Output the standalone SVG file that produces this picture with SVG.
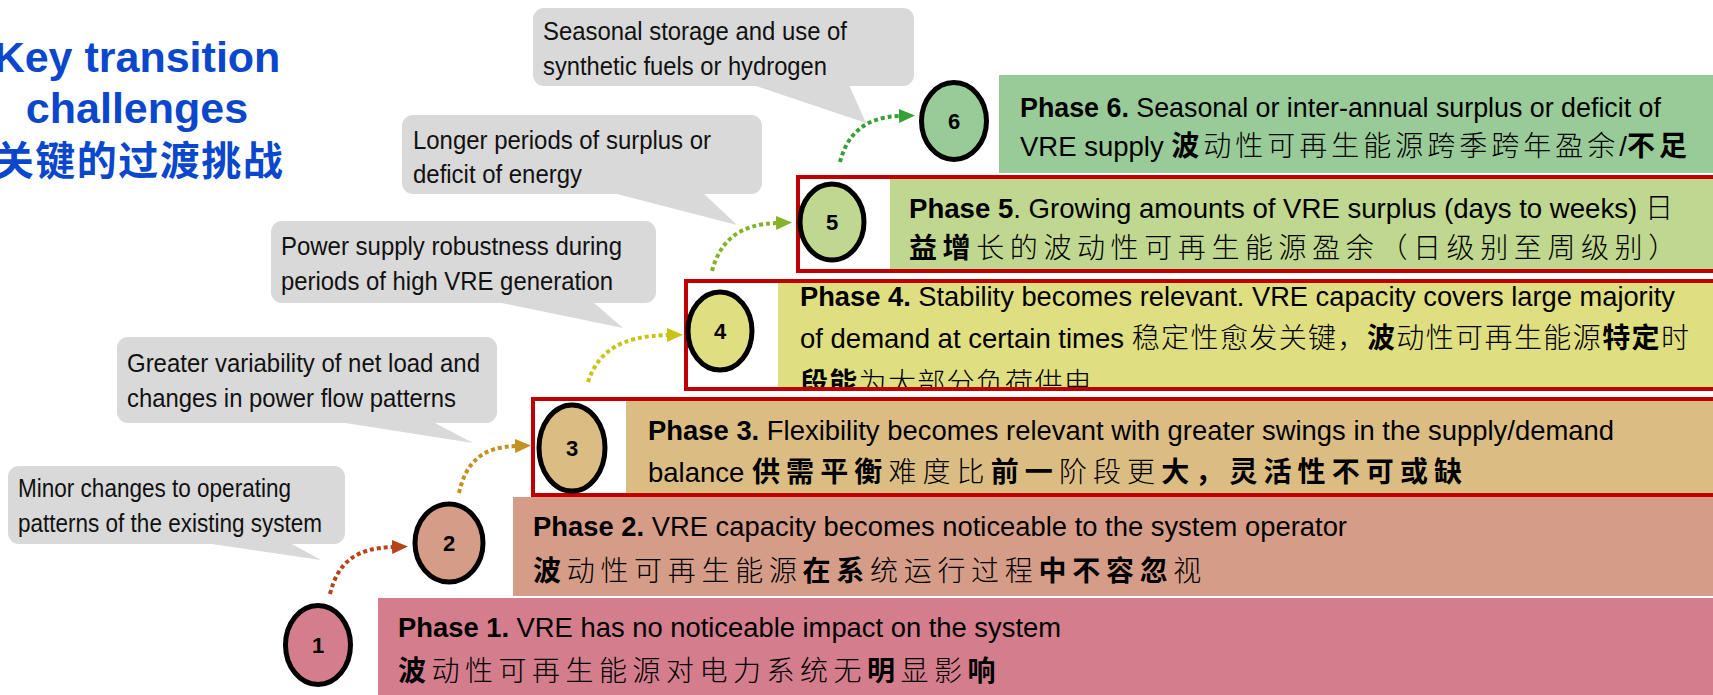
<svg xmlns="http://www.w3.org/2000/svg" width="1713" height="695" viewBox="0 0 1713 695">
<style>
.ph{font-family:"Liberation Sans",Arial,"Noto Sans CJK SC",sans-serif;font-size:27.5px;fill:#000}
.b{font-weight:bold}
.cj{font-family:"Noto Sans CJK SC","Noto Sans CJK TC",sans-serif;font-size:28px;letter-spacing:5px;font-weight:300}
.cj.b{font-weight:bold}
.co{font-family:"Liberation Sans",Arial,sans-serif;font-size:26.5px;fill:#111}
.num{font-family:"Liberation Sans",Arial,sans-serif;font-weight:bold;font-size:22px;text-anchor:middle;fill:#000}
.ttl{font-family:"Liberation Sans",Arial,sans-serif;font-weight:bold;font-size:43px;text-anchor:middle;fill:#0B47CC}
.ttlc{font-family:"Noto Sans CJK SC",sans-serif;font-weight:bold;font-size:40px;letter-spacing:1.5px;text-anchor:middle;fill:#0B47CC}
.bub{fill:#D9D9D9}
.circ{stroke:#000;stroke-width:5}
.red{fill:none;stroke:#C00000;stroke-width:4}
.con{fill:none;stroke-width:4;stroke-dasharray:4 3}
</style>
<defs>
<marker id="m1" markerUnits="userSpaceOnUse" markerWidth="16" markerHeight="16" refX="1" refY="8" orient="auto"><path d="M0,1 L16,8 L0,15 Z" fill="#B5441D"/></marker>
<marker id="m2" markerUnits="userSpaceOnUse" markerWidth="16" markerHeight="16" refX="1" refY="8" orient="auto"><path d="M0,1 L16,8 L0,15 Z" fill="#C49020"/></marker>
<marker id="m3" markerUnits="userSpaceOnUse" markerWidth="16" markerHeight="16" refX="1" refY="8" orient="auto"><path d="M0,1 L16,8 L0,15 Z" fill="#C8C414"/></marker>
<marker id="m4" markerUnits="userSpaceOnUse" markerWidth="16" markerHeight="16" refX="1" refY="8" orient="auto"><path d="M0,1 L16,8 L0,15 Z" fill="#86B22A"/></marker>
<marker id="m5" markerUnits="userSpaceOnUse" markerWidth="16" markerHeight="16" refX="1" refY="8" orient="auto"><path d="M0,1 L16,8 L0,15 Z" fill="#35A035"/></marker>
<clipPath id="clip4"><rect x="688" y="283" width="1100" height="104"/></clipPath>
</defs>

<g id="title">
<text class="ttl" x="137" y="72">Key transition</text>
<text class="ttl" x="137" y="123">challenges</text>
<text class="ttlc" x="139" y="175">关键的过渡挑战</text>
</g>

<g id="phase1">
<rect x="378" y="598" width="1335" height="97" fill="#D47D8D"/>
<text class="ph" x="398" y="637" textLength="663" lengthAdjust="spacingAndGlyphs"><tspan class="b">Phase 1.</tspan> VRE has no noticeable impact on the system</text>
<text class="ph" x="398" y="681"><tspan class="cj b" style="letter-spacing:5.5px">波</tspan><tspan class="cj" style="letter-spacing:5.5px">动性可再生能源对电力系统无</tspan><tspan class="cj b" style="letter-spacing:5.5px">明</tspan><tspan class="cj" style="letter-spacing:5.5px">显影</tspan><tspan class="cj b" style="letter-spacing:5.5px">响</tspan></text>
</g>

<g id="phase2">
<rect x="513" y="497" width="1200" height="99" fill="#D59D88"/>
<text class="ph" x="533" y="536" textLength="814" lengthAdjust="spacingAndGlyphs"><tspan class="b">Phase 2.</tspan> VRE capacity becomes noticeable to the system operator</text>
<text class="ph" x="533" y="581"><tspan class="cj b" style="letter-spacing:5.7px">波</tspan><tspan class="cj" style="letter-spacing:5.7px">动性可再生能源</tspan><tspan class="cj b" style="letter-spacing:5.7px">在系</tspan><tspan class="cj" style="letter-spacing:5.7px">统运行过程</tspan><tspan class="cj b" style="letter-spacing:5.7px">中不容忽</tspan><tspan class="cj" style="letter-spacing:5.7px">视</tspan></text>
</g>

<g id="phase3">
<rect x="533" y="399" width="1200" height="96" fill="#FFFFFF"/>
<rect x="626" y="399" width="1100" height="96" fill="#DBBD84"/>
<rect class="red" x="533" y="399" width="1200" height="96"/>
<text class="ph" x="648" y="440" textLength="966" lengthAdjust="spacingAndGlyphs"><tspan class="b">Phase 3.</tspan> Flexibility becomes relevant with greater swings in the supply/demand</text>
<text class="ph" x="648" y="482">balance <tspan class="cj b" style="letter-spacing:6.1px">供需平衡</tspan><tspan class="cj" style="letter-spacing:6.1px">难度比</tspan><tspan class="cj b" style="letter-spacing:6.1px">前一</tspan><tspan class="cj" style="letter-spacing:6.1px">阶段更</tspan><tspan class="cj b" style="letter-spacing:6.1px">大，灵活性不可或缺</tspan></text>
</g>

<g id="phase4">
<rect x="686" y="281" width="1100" height="108" fill="#FFFFFF"/>
<rect x="778" y="281" width="1000" height="108" fill="#DFDE80"/>
<g clip-path="url(#clip4)">
<text class="ph" x="800" y="306" textLength="875" lengthAdjust="spacingAndGlyphs"><tspan class="b">Phase 4.</tspan> Stability becomes relevant. VRE capacity covers large majority</text>
<text class="ph" x="800" y="348">of demand at certain times <tspan class="cj" style="letter-spacing:1.4px">稳定性愈发关键，</tspan><tspan class="cj b" style="letter-spacing:1.4px">波</tspan><tspan class="cj" style="letter-spacing:1.4px">动性可再生能源</tspan><tspan class="cj b" style="letter-spacing:1.4px">特定</tspan><tspan class="cj" style="letter-spacing:1.4px">时</tspan></text>
<text class="ph" x="800" y="393"><tspan class="cj b" style="letter-spacing:1.3px">段能</tspan><tspan class="cj" style="letter-spacing:1.3px">为大部分负荷供电</tspan></text>
</g>
<rect class="red" x="686" y="281" width="1100" height="108"/>
</g>

<g id="phase5">
<rect x="798" y="177" width="1000" height="94" fill="#FFFFFF"/>
<rect x="890" y="177" width="900" height="94" fill="#BFD78F"/>
<rect class="red" x="798" y="177" width="1000" height="94"/>
<text class="ph" x="909" y="218" textLength="769" lengthAdjust="spacingAndGlyphs"><tspan class="b">Phase 5</tspan>. Growing amounts of VRE surplus (days to weeks) <tspan class="cj">日</tspan></text>
<text class="ph" x="909" y="258"><tspan class="cj b" style="letter-spacing:5.6px">益增</tspan><tspan class="cj" style="letter-spacing:5.6px">长的波动性可再生能源盈余（日级别至周级别）</tspan></text>
</g>

<g id="phase6">
<rect x="999" y="75" width="714" height="98" fill="#99CB98"/>
<text class="ph" x="1020" y="117" textLength="641" lengthAdjust="spacingAndGlyphs"><tspan class="b">Phase 6.</tspan> Seasonal or inter-annual surplus or deficit of</text>
<text class="ph" x="1020" y="156">VRE supply <tspan class="cj b" style="letter-spacing:4px">波</tspan><tspan class="cj" style="letter-spacing:4px">动性可再生能源跨季跨年盈余</tspan>/<tspan class="cj b" style="letter-spacing:4px">不足</tspan></text>
</g>

<g id="node1"><ellipse class="circ" cx="318" cy="645" rx="32.5" ry="39.5" fill="#D47D8D"/><text class="num" x="318" y="653">1</text></g>
<g id="node2"><ellipse class="circ" cx="449" cy="543" rx="34" ry="39" fill="#D59D88"/><text class="num" x="449" y="551">2</text></g>
<g id="node3"><ellipse class="circ" cx="572" cy="448" rx="33" ry="43" fill="#DBBD84"/><text class="num" x="572" y="456">3</text></g>
<g id="node4"><ellipse class="circ" cx="720" cy="331" rx="32" ry="39" fill="#DFDE80"/><text class="num" x="720" y="339">4</text></g>
<g id="node5"><ellipse class="circ" cx="832" cy="222" rx="32" ry="38" fill="#BFD78F"/><text class="num" x="832" y="230">5</text></g>
<g id="node6"><ellipse class="circ" cx="954" cy="121" rx="32.5" ry="38.5" fill="#99CB98"/><text class="num" x="954" y="129">6</text></g>

<g id="callout1">
<rect class="bub" x="8" y="466" width="337" height="78" rx="11"/>
<polygon class="bub" points="205,543 290,543 321,560"/>
<text class="co" x="18" y="497" textLength="273" lengthAdjust="spacingAndGlyphs">Minor changes to operating</text>
<text class="co" x="18" y="532" textLength="304" lengthAdjust="spacingAndGlyphs">patterns of the existing system</text>
</g>
<g id="callout2">
<rect class="bub" x="117" y="337" width="380" height="86" rx="11"/>
<polygon class="bub" points="339,422 433,422 473,443"/>
<text class="co" x="127" y="372" textLength="353" lengthAdjust="spacingAndGlyphs">Greater variability of net load and</text>
<text class="co" x="127" y="407" textLength="329" lengthAdjust="spacingAndGlyphs">changes in power flow patterns</text>
</g>
<g id="callout3">
<rect class="bub" x="271" y="221" width="385" height="82" rx="11"/>
<polygon class="bub" points="497,302 593,302 623,328"/>
<text class="co" x="281" y="255" textLength="341" lengthAdjust="spacingAndGlyphs">Power supply robustness during</text>
<text class="co" x="281" y="290" textLength="332" lengthAdjust="spacingAndGlyphs">periods of high VRE generation</text>
</g>
<g id="callout4">
<rect class="bub" x="402" y="115" width="360" height="79" rx="11"/>
<polygon class="bub" points="613,193 703,193 737,225"/>
<text class="co" x="413" y="149" textLength="298" lengthAdjust="spacingAndGlyphs">Longer periods of surplus or</text>
<text class="co" x="413" y="183" textLength="169" lengthAdjust="spacingAndGlyphs">deficit of energy</text>
</g>
<g id="callout5">
<rect class="bub" x="533" y="8" width="381" height="78" rx="11"/>
<polygon class="bub" points="753,85 849,85 866,123"/>
<text class="co" x="543" y="40" textLength="304" lengthAdjust="spacingAndGlyphs">Seasonal storage and use of</text>
<text class="co" x="543" y="75" textLength="284" lengthAdjust="spacingAndGlyphs">synthetic fuels or hydrogen</text>
</g>

<g id="connectors">
<path class="con" stroke="#B5441D" d="M330,594 C338,562 356,548 393,547" marker-end="url(#m1)"/>
<path class="con" stroke="#C49020" d="M459,493 C466,462 482,447 516,446" marker-end="url(#m2)"/>
<path class="con" stroke="#C8C414" d="M588,382 C598,352 620,336 668,335" marker-end="url(#m3)"/>
<path class="con" stroke="#86B22A" d="M712,271 C720,242 738,224 777,223" marker-end="url(#m4)"/>
<path class="con" stroke="#35A035" d="M840,162 C847,135 864,117 900,116" marker-end="url(#m5)"/>
</g>
</svg>
